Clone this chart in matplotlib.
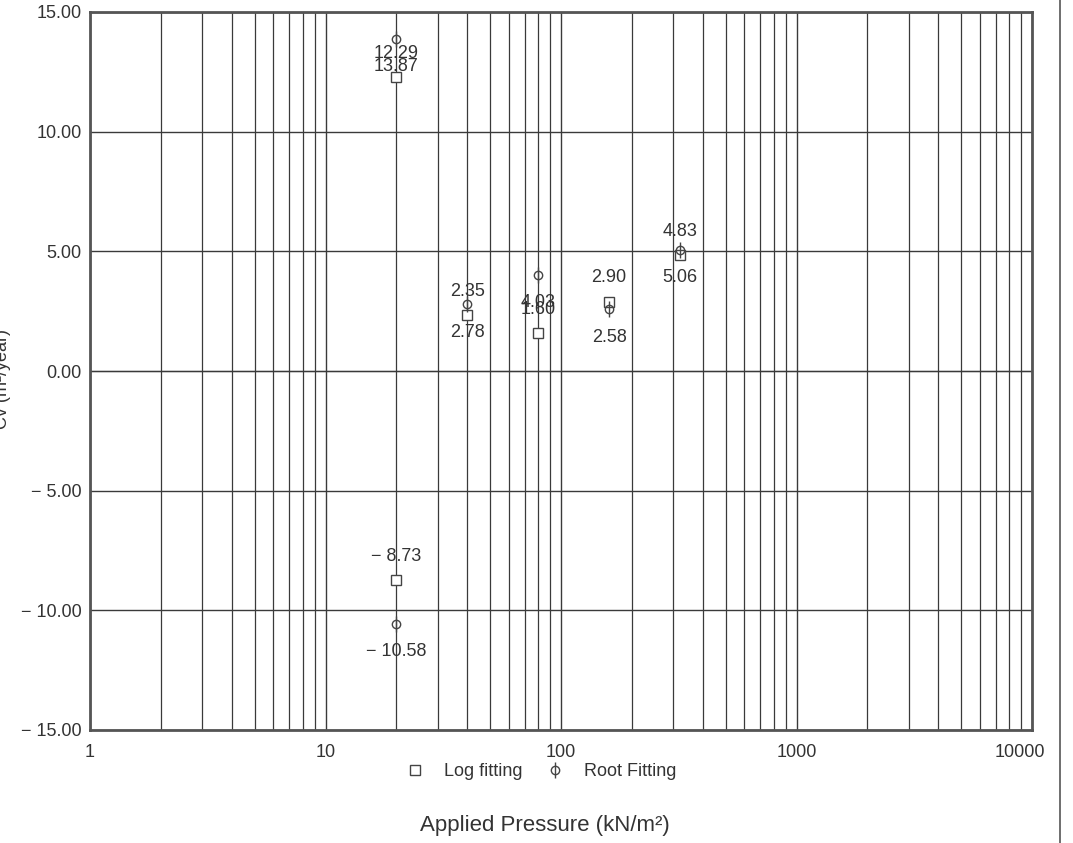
import matplotlib
matplotlib.use("Agg")
import matplotlib.pyplot as plt
from matplotlib.lines import Line2D
from matplotlib.transforms import ScaledTranslation
from matplotlib.ticker import FixedLocator, FuncFormatter, LogLocator, NullFormatter
import numpy as np

plt.rcParams['font.family'] = ['Liberation Sans', 'DejaVu Sans']

# Data
pressure = [20, 40, 80, 160, 320, 20]
cv_log = [12.29, 2.35, 1.60, 2.90, 4.83, -8.73]
cv_root = [13.87, 2.78, 4.03, 2.58, 5.06, -10.58]
x_ticks = [1, 10, 100, 1000, 10000]
y_ticks = [-15, -10, -5, 0, 5, 10, 15]

fig = plt.figure(figsize=(10.73, 8.43), dpi=100)
ax = fig.add_axes([90/1073, 1-730/843, (1032-90)/1073, (730-12)/843])
ax.set_xscale('log')
ax.set_xlim(1, 10000)
ax.set_ylim(-15, 15)

txt = '#333333'
grid_c = '#3a3a3a'

ax.xaxis.set_major_locator(FixedLocator(x_ticks))
ax.xaxis.set_minor_locator(LogLocator(base=10, subs=np.arange(2, 10)))
ax.xaxis.set_minor_formatter(NullFormatter())
ax.xaxis.set_major_formatter(FuncFormatter(lambda v, p: f"{int(v)}"))
ax.yaxis.set_major_locator(FixedLocator(y_ticks))
ax.yaxis.set_major_formatter(FuncFormatter(lambda v, p: f"{v:.2f}".replace('-', '\u2212 ')))

ax.grid(True, which='major', axis='both', color=grid_c, lw=1.0)
ax.grid(True, which='minor', axis='x', color=grid_c, lw=0.9)
ax.axhline(0, color='#9a9a9a', lw=1.0, zorder=1.5)
ax.tick_params(which='both', length=0, labelsize=13, colors=txt, pad=6)
ax.tick_params(axis='x', pad=10)
for s in ax.spines.values():
    s.set_color('#555555')
    s.set_linewidth(2)

# Markers
ax.plot(pressure, cv_log, ls='none', marker='s', ms=7, mfc='white', mec='#444444', mew=1.0, zorder=5)
ax.plot(pressure, cv_root, ls='none', marker='o', ms=6, mfc='none', mec='#444444', mew=1.0, zorder=5)
ax.plot(pressure, cv_root, ls='none', marker='|', ms=12, mec='#444444', mew=1.0, zorder=5)

for x, yl, yr in zip(pressure, cv_log, cv_root):
    ax.annotate(f"{yl:.2f}".replace('-', '\u2212 '), (x, yl), xytext=(0, 17), textcoords='offset points',
                ha='center', va='center', fontsize=13, color=txt, zorder=6)
    ax.annotate(f"{yr:.2f}".replace('-', '\u2212 '), (x, yr), xytext=(0, -20), textcoords='offset points',
                ha='center', va='center', fontsize=13, color=txt, zorder=6)

# Legend
h_log = Line2D([], [], ls='none', marker='s', ms=7, mfc='none', mec='#444444', mew=1.0)
h_root_o = Line2D([], [], ls='none', marker='o', ms=6, mfc='none', mec='#444444', mew=1.0)
h_root_l = Line2D([], [], ls='none', marker='|', ms=12, mec='#444444', mew=1.0)
leg = fig.legend([h_log, (h_root_o, h_root_l)], ['Log fitting', 'Root Fitting'], ncol=2, frameon=False,
                 loc='center', bbox_to_anchor=(540/1073, 1-772/843), fontsize=13,
                 handlelength=1.2, columnspacing=1.2, handletextpad=1.0)
for t in leg.get_texts():
    t.set_color(txt)

fig.text(545/1073, 1-826/843, 'Applied Pressure (kN/m\u00b2)', ha='center', va='center', fontsize=16, color=txt)
fig.text(3/1073, 0.55, 'Cv (m\u00b2/year)', rotation=90, ha='center', va='center', fontsize=13, color=txt)

# shift the last x tick label slightly left, as in the reference
fig.canvas.draw()
last = ax.get_xticklabels()[-1]
last.set_transform(last.get_transform() + ScaledTranslation(-12/100, 0, fig.dpi_scale_trans))

# page border line on the right
fig.add_artist(Line2D([1060/1073, 1060/1073], [0, 1], transform=fig.transFigure, color='#555555', lw=1.2))

fig.savefig('out.png', dpi=100, facecolor='white')
